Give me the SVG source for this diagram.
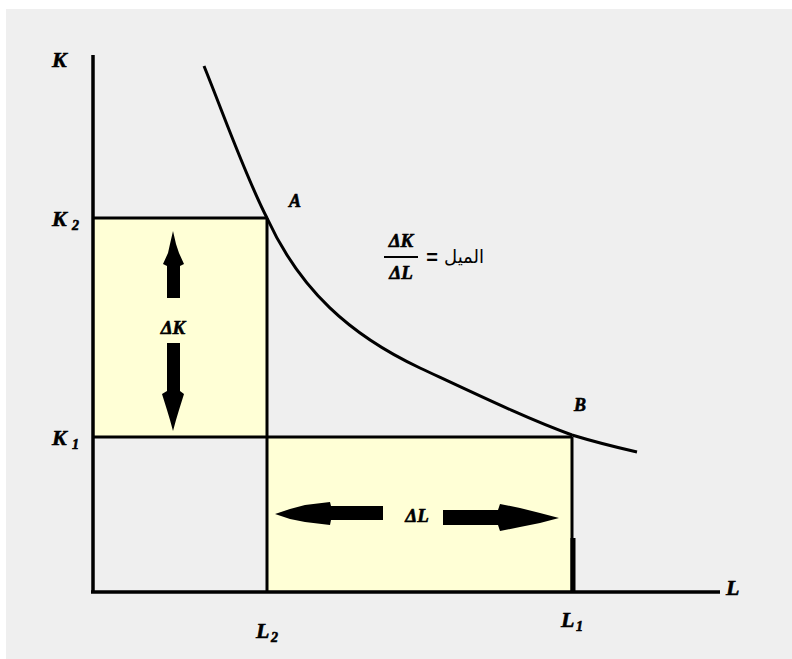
<svg xmlns="http://www.w3.org/2000/svg" width="792" height="659" viewBox="0 0 792 659">
<style>
.lbl{font-family:"Liberation Serif","Times New Roman",serif;font-weight:bold;font-style:italic;fill:#000;stroke:#000;stroke-width:0.6}
.sub{font-size:14px}
.ax{stroke:#000;stroke-width:3.5;fill:none}
.ln{stroke:#000;stroke-width:3;fill:none}
.box{fill:#ffffd6;stroke:none}
.arr{fill:#000}
</style>
<rect x="0" y="0" width="792" height="659" fill="#ffffff"/>
<rect x="6" y="9" width="786" height="650" fill="#efefef"/>
<g id="boxK"><rect class="box" x="93" y="218" width="174" height="219"/></g>
<g id="boxL"><rect class="box" x="267" y="437" width="305" height="155"/></g>
<g id="connectors">
<line class="ax" x1="93" y1="55" x2="93" y2="593"/>
<line class="ax" x1="91" y1="592" x2="720" y2="592"/>
<line class="ln" x1="93" y1="218" x2="267" y2="218"/>
<line class="ln" x1="267" y1="218" x2="267" y2="592"/>
<line class="ln" x1="93" y1="437" x2="572" y2="437"/>
<line class="ln" x1="572" y1="437" x2="572" y2="592"/>
<line x1="573" y1="538" x2="573" y2="592" stroke="#000" stroke-width="5"/>
<path class="ln" d="M204,66 C225,118 245,175 267,218 C300,290 350,335 420,368 C480,396 530,420 572,435 C595,442 615,447 637,452"/>
</g>
<g id="arrowK">
<polygon class="arr" points="173,231 176,244 179,253 184,264 180,266 180,298 167,298 167,266 163,264 168,253 170,244"/>
<polygon class="arr" points="167,343 180,343 180,391 184,394 179,410 176,420 173,431 170,420 167,410 162,394 167,391"/>
<text class="lbl" x="173" y="334" font-size="19" text-anchor="middle">ΔK</text>
</g>
<g id="arrowL">
<polygon class="arr" points="275,514 290,509 305,505 330,502 331,506 383,506 383,520 331,520 330,525 305,522 290,519"/>
<polygon class="arr" points="443,510 498,510 500,504 520,508 540,513 559,518 540,523 520,527 500,531 498,525 443,525"/>
<text class="lbl" x="417" y="522" font-size="19" text-anchor="middle">ΔL</text>
</g>
<g id="labels">
<text class="lbl" x="52" y="67" font-size="22">K</text>
<text class="lbl" x="52" y="226" font-size="22">K</text>
<text class="lbl sub" x="72" y="230">2</text>
<text class="lbl" x="52" y="445" font-size="22">K</text>
<text class="lbl sub" x="72" y="449">1</text>
<text class="lbl" x="289" y="207" font-size="18">A</text>
<text class="lbl" x="574" y="411" font-size="18">B</text>
<text class="lbl" x="726" y="595" font-size="22">L</text>
<text class="lbl" x="256" y="638" font-size="22">L</text>
<text class="lbl sub" x="271" y="642">2</text>
<text class="lbl" x="561" y="627" font-size="22">L</text>
<text class="lbl sub" x="576" y="631">1</text>
</g>
<g id="slope">
<text class="lbl" x="401" y="247" font-size="19" text-anchor="middle">ΔK</text>
<line x1="384" y1="257" x2="418" y2="257" stroke="#000" stroke-width="2"/>
<text class="lbl" x="401" y="279" font-size="19" text-anchor="middle">ΔL</text>
<text x="432" y="264" font-family="Liberation Sans,Arial,sans-serif" font-weight="bold" font-size="20" text-anchor="middle">=</text>
<text x="464" y="263" font-family="DejaVu Sans,Noto Sans,sans-serif" font-size="18" text-anchor="middle" direction="rtl">الميل</text>
</g>
</svg>
